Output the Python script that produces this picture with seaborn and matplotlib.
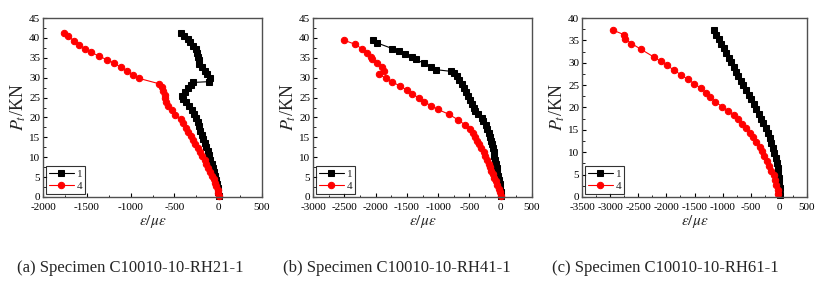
import numpy as np
import pandas as pd
import matplotlib
matplotlib.use("Agg")
import matplotlib.pyplot as plt
import seaborn as sns
from matplotlib.ticker import MultipleLocator

# ---- data (strain in micro-strain, load in kN) ----
# (a) C10010-10-RH21-1
a1_y = [0.3, 1.2, 2.2, 3.2, 4.2, 5.2, 6.3, 7.3, 8.4, 9.4, 10.5, 11.5, 12.6, 13.6, 14.7,
        15.7, 16.7, 17.8, 18.8, 19.8, 20.9, 21.9, 22.9, 23.9, 24.7, 25.4, 26.3, 27.3,
        28.2, 28.8, 29.0, 30.0, 30.9, 31.7, 32.6, 33.5, 34.4, 35.3, 36.2, 37.1, 38.0,
        38.9, 39.8, 40.6, 41.3]
a1_x = [5, 2, -5, -15, -25, -36, -50, -62, -75, -90, -105, -120, -140, -155, -170,
        -190, -205, -220, -235, -255, -275, -300, -330, -365, -400, -410, -375, -340,
        -310, -285, -105, -95, -125, -150, -190, -215, -222, -228, -240, -255, -290,
        -320, -350, -385, -420]
a4_y = [0.3, 1.0, 1.8, 2.7, 3.6, 4.5, 5.4, 6.4, 7.3, 8.3, 9.2, 10.2, 11.2, 12.2, 13.3,
        14.3, 15.3, 16.3, 17.4, 18.5, 19.5, 20.7, 21.8, 22.9, 23.9, 24.8, 25.7, 26.7,
        27.6, 28.5, 29.8, 30.7, 31.6, 32.6, 33.6, 34.5, 35.4, 36.4, 37.3, 38.3, 39.3,
        40.4, 41.3]
a4_x = [5, 0, -5, -20, -35, -50, -70, -95, -115, -135, -155, -180, -205, -235, -260,
        -285, -310, -340, -370, -400, -430, -495, -530, -570, -600, -605, -612, -625,
        -640, -680, -900, -970, -1045, -1110, -1185, -1270, -1360, -1450, -1520, -1590,
        -1650, -1710, -1765]

# (b) C10010-10-RH41-1
b1_y = [0.3, 1.2, 2.2, 3.2, 4.2, 5.2, 6.2, 7.2, 8.2, 9.2, 10.2, 11.2, 12.2, 13.2, 14.2,
        15.2, 16.2, 17.2, 18.2, 19.2, 19.8, 20.8, 21.5, 22.4, 23.5, 24.5, 25.5, 26.5,
        27.5, 28.5, 29.4, 30.3, 31.1, 31.6, 32.0, 32.7, 33.6, 34.6, 35.2, 35.9, 36.6,
        37.3, 38.7, 39.4]
b1_x = [10, 5, -5, -15, -28, -40, -52, -63, -75, -87, -100, -112, -125, -140, -155,
        -170, -195, -215, -240, -280, -305, -370, -410, -430, -460, -490, -520, -550,
        -590, -625, -665, -705, -750, -800, -1030, -1120, -1230, -1350, -1420, -1530,
        -1630, -1730, -1970, -2040]
b4_y = [0.3, 1.2, 2.1, 3.0, 3.9, 4.8, 5.7, 6.6, 7.5, 8.4, 9.3, 10.2, 11.2, 12.2, 13.2,
        14.2, 15.2, 16.1, 17.0, 18.1, 19.4, 20.8, 22.0, 22.9, 23.9, 24.9, 25.9, 26.9,
        27.9, 28.9, 29.9, 30.9, 31.8, 32.8, 33.8, 34.8, 35.2, 36.3, 37.2, 38.4, 39.4]
b4_x = [0, -15, -35, -55, -80, -105, -128, -150, -170, -190, -215, -245, -275, -310,
        -345, -375, -410, -445, -490, -570, -680, -830, -1000, -1110, -1220, -1310,
        -1410, -1500, -1610, -1730, -1840, -1950, -1860, -1900, -1980, -2060, -2075,
        -2140, -2210, -2330, -2500]

# (c) C10010-10-RH61-1
c1_y = [0.5, 2.0, 3.1, 4.2, 5.3, 6.5, 7.6, 8.7, 9.8, 10.9, 12.0, 13.1, 14.3, 15.4, 16.5,
        17.4, 18.6, 19.7, 20.7, 21.8, 22.8, 23.9, 25.0, 26.0, 27.0, 28.0, 29.1, 30.1,
        31.1, 32.1, 33.2, 34.3, 35.4, 36.3, 37.3]
c1_x = [20, 20, 10, 5, -7, -18, -36, -53, -78, -107, -137, -165, -195, -231, -274,
        -320, -362, -409, -451, -497, -540, -586, -629, -675, -718, -764, -806, -853,
        -895, -936, -984, -1030, -1073, -1114, -1162]
c4_y = [0.7, 1.6, 2.7, 3.9, 5.0, 5.9, 7.0, 8.1, 9.1, 10.2, 11.1, 12.2, 13.3, 14.2, 15.4,
        16.3, 17.4, 18.3, 19.3, 20.2, 21.3, 22.3, 23.2, 24.3, 25.3, 26.3, 27.3, 28.3,
        29.4, 30.3, 31.3, 33.0, 34.3, 35.3, 36.3, 37.3]
c4_x = [-12, -24, -47, -65, -95, -136, -172, -213, -260, -302, -343, -402, -462, -521,
        -580, -657, -734, -805, -911, -1012, -1130, -1219, -1290, -1385, -1503, -1621,
        -1740, -1858, -1988, -2095, -2225, -2450, -2621, -2728, -2757, -2953]

panels = [
    (a1_x, a1_y, a4_x, a4_y, (-2000, 500), (0, 45), "(a) Specimen C10010-10-RH21-1"),
    (b1_x, b1_y, b4_x, b4_y, (-3000, 500), (0, 45), "(b) Specimen C10010-10-RH41-1"),
    (c1_x, c1_y, c4_x, c4_y, (-3500, 500), (0, 40), "(c) Specimen C10010-10-RH61-1"),
]

sns.set_style("ticks")
plt.rcParams['font.family'] = ['Liberation Serif', 'DejaVu Serif']
plt.rcParams['mathtext.fontset'] = 'stix'
plt.rcParams['axes.unicode_minus'] = False

fig = plt.figure(figsize=(8.22, 2.85), dpi=100)

# axes boxes in pixels: left, right
boxes = [(43, 262), (313, 532), (582, 807)]
cap_x = [130, 397, 665]
top, bottom = 18, 197

for (x1, y1, x4, y4, xl, yl, cap), (l, r), cx in zip(panels, boxes, cap_x):
    ax = fig.add_axes([l / 822, 1 - bottom / 285, (r - l) / 822, (bottom - top) / 285])
    d1 = pd.DataFrame({"strain": x1, "load": y1})
    d4 = pd.DataFrame({"strain": x4, "load": y4})
    sns.lineplot(data=d1, x="strain", y="load", sort=False, estimator=None, ax=ax,
                 color="black", lw=0.8, marker="s", markersize=4.0,
                 markeredgecolor="black", label="1", clip_on=False)
    sns.lineplot(data=d4, x="strain", y="load", sort=False, estimator=None, ax=ax,
                 color="red", lw=0.8, marker="o", markersize=4.6,
                 markeredgecolor="red", label="4", clip_on=False)
    ax.set_xlim(*xl)
    ax.set_ylim(*yl)
    ax.xaxis.set_major_locator(MultipleLocator(500))
    ax.xaxis.set_minor_locator(MultipleLocator(250))
    ax.yaxis.set_major_locator(MultipleLocator(5))
    ax.yaxis.set_minor_locator(MultipleLocator(2.5))
    ax.tick_params(which="both", direction="in", top=False, right=False,
                   labelsize=8, colors="black")
    ax.tick_params(axis="x", pad=4)
    ax.tick_params(axis="y", pad=2)
    ax.tick_params(which="major", length=3, width=0.8)
    ax.tick_params(which="minor", length=1.8, width=0.6)
    for s in ax.spines.values():
        s.set_visible(True)
        s.set_color("#505050")
        s.set_linewidth(1.0)
    ax.set_xlabel(r"$\varepsilon/\mu\varepsilon$", fontsize=11, labelpad=1)
    ax.set_ylabel(r"$P_t$/KN", fontsize=13, labelpad=1)
    leg = ax.legend(loc="lower left", fontsize=8, frameon=True, fancybox=False,
                    edgecolor="black", borderaxespad=0.3, handlelength=2.2,
                    handletextpad=0.3, borderpad=0.25, labelspacing=0.2)
    leg.get_frame().set_linewidth(0.8)
    fig.text(cx / 822, 1 - 268 / 285, cap, ha="center", va="center", fontsize=12)

fig.savefig("out.png", dpi=100)
